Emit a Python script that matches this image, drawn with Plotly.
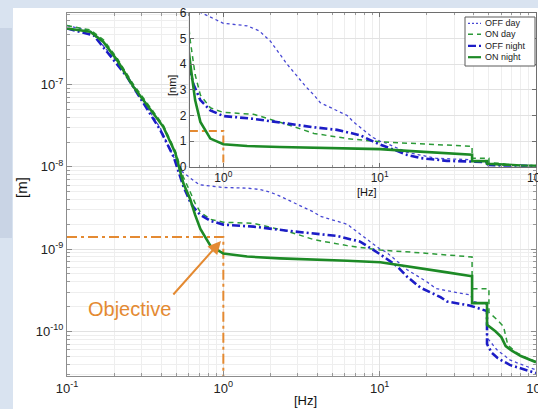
import numpy as np
import plotly.graph_objects as go

# Cumulative RMS displacement vs frequency: frequency [Hz], displacement [m]
off_day_f = [0.1, 0.141, 0.199, 0.242, 0.309, 0.395, 0.458, 0.53, 0.615, 0.7, 1.0, 1.42, 1.7,
             2.0, 2.3, 2.56, 3.4, 3.8, 4.17, 6.2, 6.8, 9.0, 10.1, 11.0, 15.0, 20.0, 23.0, 30.0,
             38.0, 40.0, 48.6, 48.61, 56.0, 68.0, 79.0, 100.0]
off_day_v = [5.2e-7, 4.5e-7, 2.1e-7, 1.3e-7, 6.2e-8, 2.95e-8, 1.59e-8, 9.1e-9, 7.3e-9, 6.05e-9,
             5.6e-9, 5.5e-9, 5.3e-9, 4.9e-9, 4.4e-9, 4.0e-9, 3.1e-9, 2.8e-9, 2.5e-9, 2.0e-9,
             1.75e-9, 1.15e-9, 0.99e-9, 0.92e-9, 0.56e-9, 0.40e-9, 0.33e-9, 0.30e-9, 0.276e-9,
             0.23e-9, 0.21e-9, 0.084e-9, 0.060e-9, 0.045e-9, 0.040e-9, 0.034e-9]

on_day_f = [0.1, 0.141, 0.171, 0.209, 0.266, 0.341, 0.413, 0.493, 0.555, 0.615, 0.66, 0.713,
            0.826, 1.0, 1.56, 2.56, 3.8, 6.2, 10.1, 18.2, 30.0, 36.0, 39.0, 39.01, 50.0, 50.01,
            56.0, 62.0, 66.0, 75.0, 88.0, 100.0]
on_day_v = [5.2e-7, 4.6e-7, 3.5e-7, 2.1e-7, 1.0e-7, 5.2e-8, 3.2e-8, 1.55e-8, 7.5e-9, 4.9e-9,
            3.6e-9, 2.8e-9, 2.3e-9, 2.12e-9, 2.05e-9, 1.65e-9, 1.3e-9, 1.1e-9, 0.97e-9, 0.90e-9,
            0.84e-9, 0.81e-9, 0.80e-9, 0.33e-9, 0.33e-9, 0.17e-9, 0.14e-9, 0.114e-9, 0.068e-9,
            0.055e-9, 0.047e-9, 0.043e-9]

off_night_f = [0.1, 0.148, 0.199, 0.242, 0.309, 0.395, 0.481, 0.557, 0.615, 0.646, 0.713, 0.826,
               1.0, 1.56, 2.56, 3.8, 5.34, 7.5, 9.0, 10.1, 12.9, 15.0, 18.2, 24.5, 27.0, 38.0,
               48.6, 48.61, 52.0, 57.0, 68.0, 100.0]
off_night_v = [4.8e-7, 3.97e-7, 1.98e-7, 1.24e-7, 5.9e-8, 2.8e-8, 1.32e-8, 5.7e-9, 3.7e-9,
               3.2e-9, 2.6e-9, 2.2e-9, 1.98e-9, 1.87e-9, 1.67e-9, 1.54e-9, 1.44e-9, 1.23e-9,
               1.0e-9, 0.86e-9, 0.62e-9, 0.46e-9, 0.34e-9, 0.26e-9, 0.23e-9, 0.205e-9,
               0.176e-9, 0.070e-9, 0.055e-9, 0.047e-9, 0.039e-9, 0.031e-9]

on_night_f = [0.1, 0.12, 0.141, 0.171, 0.209, 0.266, 0.341, 0.413, 0.493, 0.555, 0.615, 0.66,
              0.713, 0.826, 1.0, 1.42, 2.3, 3.77, 6.2, 10.1, 15.0, 20.0, 27.0, 38.0, 39.0, 39.01,
              48.6, 48.61, 55.0, 60.0, 64.0, 70.0, 80.0, 100.0]
on_night_v = [4.8e-7, 4.6e-7, 4.37e-7, 3.3e-7, 1.98e-7, 9.4e-8, 4.9e-8, 3.06e-8, 1.47e-8, 6.3e-9,
              4.0e-9, 2.6e-9, 1.75e-9, 1.1e-9, 0.88e-9, 0.81e-9, 0.77e-9, 0.75e-9, 0.72e-9,
              0.69e-9, 0.62e-9, 0.57e-9, 0.52e-9, 0.47e-9, 0.47e-9, 0.22e-9, 0.22e-9, 0.12e-9,
              0.10e-9, 0.085e-9, 0.066e-9, 0.058e-9, 0.050e-9, 0.042e-9]

series_names = ["OFF day", "ON day", "OFF night", "ON night"]

# Target level and the frequency it applies from
objective_m = 1.4e-9
objective_f = 1.0

# Tick labels
main_x_ticks = [0.1, 1, 10, 100]
main_x_text = ["10<sup>-1</sup>", "10<sup>0</sup>", "10<sup>1</sup>", "10<sup>2</sup>"]
main_y_ticks = [1e-10, 1e-9, 1e-8, 1e-7]
main_y_text = ["10<sup>-10</sup>", "10<sup>-9</sup>", "10<sup>-8</sup>", "10<sup>-7</sup>"]
inset_x_ticks = [1, 10, 100]
inset_x_text = ["10<sup>0</sup>", "10<sup>1</sup>", "10<sup>2</sup>"]

# ---- layout geometry ----
W, H = 538, 409
ML, MR, MT, MB = 67, 2, 13, 33
PW, PH = W - ML - MR, H - MT - MB

X_RANGE = [-1.0, 2.0]
Y_RANGE = [np.log10(2.86e-11), np.log10(7.4e-7)]
INSET_F_LO = 0.611
INSET_BOTTOM_M = 1e-8
INSET_Y_RANGE = [0, 6]

ix0 = (np.log10(INSET_F_LO) - X_RANGE[0]) / (X_RANGE[1] - X_RANGE[0])
iy0 = (np.log10(INSET_BOTTOM_M) - Y_RANGE[0]) / (Y_RANGE[1] - Y_RANGE[0])


def px(x):
    return (x - ML) / PW


def py(y):
    return (H - MB - y) / PH


FONT = "Liberation Sans, Arial, Helvetica, sans-serif"
ORANGE = "#e48a32"

styles = {
    "OFF day": dict(color="#4848d4", width=1.3, dash="dot"),
    "ON day": dict(color="#2c9a38", width=1.5, dash="5px,4px"),
    "OFF night": dict(color="#1c1cc6", width=2.6, dash="8px,3px,2px,3px"),
    "ON night": dict(color="#1d8a26", width=2.6, dash="solid"),
}
data = {
    "OFF day": (off_day_f, off_day_v),
    "ON day": (on_day_f, on_day_v),
    "OFF night": (off_night_f, off_night_v),
    "ON night": (on_night_f, on_night_v),
}


def minor_vals(e_lo, e_hi):
    return [k * 10.0 ** e for e in range(e_lo, e_hi + 1) for k in range(2, 10)]


fig = go.Figure()

# white backing for the inset area, painted over the main grid
y_top = 10 ** Y_RANGE[1]
fig.add_trace(go.Scatter(
    x=[INSET_F_LO, 100, 100, INSET_F_LO, INSET_F_LO],
    y=[INSET_BOTTOM_M, INSET_BOTTOM_M, y_top, y_top, INSET_BOTTOM_M],
    mode="lines", fill="toself", fillcolor="white", line=dict(width=0),
    hoverinfo="skip", showlegend=False, xaxis="x", yaxis="y"))

# objective guide lines
y_bot = 10 ** Y_RANGE[0]
fig.add_trace(go.Scatter(
    x=[0.1, objective_f, objective_f], y=[objective_m, objective_m, y_bot],
    mode="lines", line=dict(color=ORANGE, width=2, dash="10px,4px,3px,4px"),
    hoverinfo="skip", showlegend=False, xaxis="x", yaxis="y"))

for name in series_names:
    f, v = data[name]
    fig.add_trace(go.Scatter(x=f, y=v, mode="lines", name=name, line=styles[name],
                             showlegend=False, xaxis="x", yaxis="y"))

# inset: same spectra in nm on a linear scale
fig.add_trace(go.Scatter(
    x=[INSET_F_LO, objective_f, objective_f], y=[objective_m * 1e9, objective_m * 1e9, 0],
    mode="lines", line=dict(color=ORANGE, width=2, dash="8px,4px,3px,4px"),
    hoverinfo="skip", showlegend=False, xaxis="x2", yaxis="y2"))

for name in series_names:
    f, v = data[name]
    st = dict(styles[name])
    fig.add_trace(go.Scatter(x=f, y=[val * 1e9 for val in v], mode="lines", name=name,
                             line=st, showlegend=False, xaxis="x2", yaxis="y2"))

grid_major = "#e2e2e2"
grid_minor = "#eeeeee"
axis_common = dict(
    showline=True, linewidth=1, mirror="ticks", ticks="inside", zeroline=False,
    showgrid=True, gridcolor=grid_major, gridwidth=1, automargin=False,
    tickfont=dict(family=FONT, size=13, color="#222"),
)

fig.update_layout(
    width=W, height=H, autosize=False,
    margin=dict(l=ML, r=MR, t=MT, b=MB, pad=0, autoexpand=False),
    paper_bgcolor="#d9e3f0", plot_bgcolor="white",
    font=dict(family=FONT),
    showlegend=False,
    xaxis=dict(type="log", range=X_RANGE, domain=[0, 1], anchor="y",
               tickvals=main_x_ticks, ticktext=main_x_text, ticklen=5,
               ticklabeloverflow="allow",
               linecolor="#8c8c8c", tickcolor="#8c8c8c",
               minor=dict(tickvals=minor_vals(-1, 1), ticks="inside", ticklen=3,
                          tickcolor="#999", showgrid=True, gridcolor=grid_minor),
               **axis_common),
    yaxis=dict(type="log", range=Y_RANGE, domain=[0, 1], anchor="x",
               tickvals=main_y_ticks, ticktext=main_y_text, ticklen=5,
               linecolor="#8c8c8c", tickcolor="#8c8c8c",
               minor=dict(tickvals=minor_vals(-11, -7), ticks="inside", ticklen=3,
                          tickcolor="#999", showgrid=True, gridcolor=grid_minor),
               **axis_common),
    xaxis2=dict(type="log", range=[np.log10(INSET_F_LO), 2], domain=[ix0, 1], anchor="y2",
                tickvals=inset_x_ticks, ticktext=inset_x_text, ticklen=4,
                ticklabeloverflow="allow", automargin=False,
                linecolor="#6e6e6e", tickcolor="#6e6e6e",
                minor=dict(tickvals=minor_vals(-1, 1), ticks="inside", ticklen=2,
                           tickcolor="#999", showgrid=True, gridcolor=grid_minor),
                showline=True, linewidth=1, mirror="ticks", ticks="inside", zeroline=False,
                showgrid=True, gridcolor=grid_major,
                tickfont=dict(family=FONT, size=12, color="#222")),
    yaxis2=dict(range=INSET_Y_RANGE, domain=[iy0, 1], anchor="x2", dtick=1, ticklen=4,
                automargin=False,
                linecolor="#6e6e6e", tickcolor="#6e6e6e",
                showline=True, linewidth=1, mirror="ticks", ticks="inside", zeroline=False,
                showgrid=True, gridcolor=grid_major,
                tickfont=dict(family=FONT, size=12, color="#222")),
)

shapes = [
    # white slide panel
    dict(type="rect", xref="paper", yref="paper", x0=px(13), x1=px(W + 5), y0=py(8), y1=py(H + 5),
         fillcolor="white", line=dict(width=0), layer="below"),
    # darker strip at the left edge of the slide
    dict(type="rect", xref="paper", yref="paper", x0=px(-2), x1=px(12), y0=py(28), y1=py(238),
         fillcolor="#c9d4e5", line=dict(width=0), layer="below"),
    # key box
    dict(type="rect", xref="paper", yref="paper", x0=px(465), x1=px(535), y0=py(66), y1=py(17),
         fillcolor="white", line=dict(color="#5a5a5a", width=1), layer="above"),
]

annotations = []
key_y = [23.3, 34.3, 45.8, 57.2]
for name, ky in zip(series_names, key_y):
    st = styles[name]
    shapes.append(dict(type="line", xref="paper", yref="paper", x0=px(468), x1=px(481),
                       y0=py(ky), y1=py(ky), layer="above",
                       line=dict(color=st["color"], width=min(st["width"], 2.2),
                                 dash=st["dash"] if st["dash"] != "dot" else "2px,2px")))
    annotations.append(dict(text=name, xref="paper", yref="paper", x=px(482.5), y=py(ky),
                            xanchor="left", yanchor="middle", showarrow=False,
                            font=dict(family=FONT, size=9, color="#222")))

annotations += [
    dict(text="[m]", xref="paper", yref="paper", x=px(21), y=py(188), textangle=-90,
         showarrow=False, xanchor="center", yanchor="middle",
         font=dict(family=FONT, size=15, color="#111")),
    dict(text="[Hz]", xref="paper", yref="paper", x=px(305), y=py(400.5), showarrow=False,
         xanchor="center", yanchor="middle", font=dict(family=FONT, size=13, color="#111")),
    dict(text="[nm]", xref="paper", yref="paper", x=px(172), y=py(86), textangle=-90,
         showarrow=False, xanchor="center", yanchor="middle",
         font=dict(family=FONT, size=11, color="#111")),
    dict(text="[Hz]", xref="paper", yref="paper", x=px(367), y=py(192), showarrow=False,
         xanchor="center", yanchor="middle", font=dict(family=FONT, size=11, color="#111")),
    dict(text="Objective", xref="paper", yref="paper", x=px(129), y=py(309), showarrow=False,
         xanchor="center", yanchor="middle", font=dict(family=FONT, size=20, color=ORANGE)),
    dict(text="", xref="paper", yref="paper", x=px(221), y=py(241), showarrow=True,
         axref="pixel", ayref="pixel", ax=-49, ay=55, arrowhead=2, arrowsize=1.3,
         arrowwidth=2, arrowcolor=ORANGE, standoff=0),
]

fig.update_layout(shapes=shapes, annotations=annotations)
fig.write_html("out.html")
